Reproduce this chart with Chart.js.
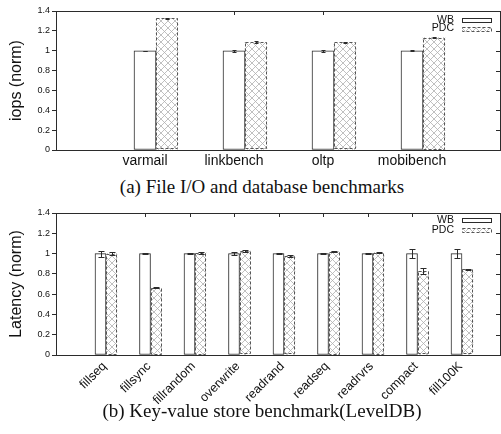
<!DOCTYPE html>
<html>
<head>
<meta charset="utf-8">
<script src="https://cdn.jsdelivr.net/npm/chart.js"></script>
<style>
  body { margin: 0; background: #fff; width: 501px; height: 434px; position: relative; overflow: hidden; }
  canvas { position: absolute; left: 0; }
  #io { top: 0; }
  #kv { top: 200px; }
  .cap { position: absolute; left: 0; width: 524px; text-align: center; line-height: 22px;
         font-family: "Liberation Serif", "Times New Roman", serif; font-size: 19px; color: #111; }
</style>
</head>
<body>
<canvas id="io" width="501" height="175"></canvas>
<div class="cap" style="top:176px">(a) File I/O and database benchmarks</div>
<canvas id="kv" width="501" height="205"></canvas>
<div class="cap" style="top:400px">(b) Key-value store benchmark(LevelDB)</div>
<script>
// (a) file I/O and database benchmarks
const ioCats = ['varmail', 'linkbench', 'oltp', 'mobibench'];
const ioWB = [1.0, 1.0, 1.0, 1.0];
const ioWBErr = [0, 0.008, 0.008, 0.005];
const ioPDC = [1.325, 1.085, 1.083, 1.133];
const ioPDCErr = [0.004, 0.008, 0.008, 0.003];

// (b) key-value store (LevelDB)
const kvCats = ['fillseq', 'fillsync', 'fillrandom', 'overwrite', 'readrand', 'readseq', 'readrvrs', 'compact', 'fill100K'];
const kvWB = [1.0, 1.0, 1.0, 1.0, 1.0, 1.0, 1.0, 1.0, 1.0];
const kvWBErr = [0.03, 0.002, 0.006, 0.015, 0.006, 0.002, 0.002, 0.045, 0.045];
const kvPDC = [1.0, 0.665, 1.01, 1.025, 0.975, 1.02, 1.01, 0.825, 0.845];
const kvPDCErr = [0.015, 0.008, 0.01, 0.01, 0.012, 0.003, 0.003, 0.03, 0.005];

const yMax = 1.4;
const yStep = 0.2;
const seriesNames = ['WB', 'PDC'];

const ink = '#2b2b2b';
const sans = '"Liberation Sans", Arial, sans-serif';

// blank slot at each end of the x range, like gnuplot's xrange [-1:n]
const pad = a => [null, ...a, null];

function hatch() {
  const c = document.createElement('canvas');
  c.width = c.height = 7;
  const g = c.getContext('2d');
  g.fillStyle = '#fff';
  g.fillRect(0, 0, 7, 7);
  g.strokeStyle = '#b0b0b0';
  g.lineWidth = 0.8;
  g.beginPath();
  g.moveTo(0, 0); g.lineTo(7, 7);
  g.moveTo(7, 0); g.lineTo(0, 7);
  g.stroke();
  return g.createPattern(c, 'repeat');
}

function dashedRect(ctx, x, y, w, h) {
  ctx.save();
  ctx.strokeStyle = '#555';
  ctx.lineWidth = 1;
  ctx.setLineDash([3, 2]);
  ctx.strokeRect(x, y, w, h);
  ctx.restore();
}

// frame, mirror ticks, dashed outlines, error bars and the key
const decor = {
  id: 'decor',
  afterDatasetsDraw(chart, args, opts) {
    const { ctx, chartArea: a, scales: { x, y } } = chart;
    ctx.save();
    ctx.strokeStyle = ink;
    ctx.lineWidth = 1;

    chart.data.datasets.forEach((ds, i) => {
      if (!ds.errors) return;
      chart.getDatasetMeta(i).data.forEach((bar, j) => {
        const v = ds.data[j];
        if (v == null) return;
        const w = bar.width;
        if (ds.dashed) dashedRect(ctx, Math.round(bar.x - w / 2) + 0.5, Math.round(bar.y) + 0.5, Math.round(w) - 1, Math.round(bar.base - bar.y) - 1);
        const e = ds.errors[j] || 0;
        const hi = Math.round(y.getPixelForValue(v + e)) + 0.5;
        const lo = Math.round(y.getPixelForValue(v - e)) + 0.5;
        const bx = Math.round(bar.x) + 0.5;
        ctx.strokeStyle = ink;
        ctx.beginPath();
        ctx.moveTo(bx, lo); ctx.lineTo(bx, hi);
        ctx.moveTo(bx - opts.cap, hi); ctx.lineTo(bx + opts.cap, hi);
        ctx.moveTo(bx - opts.cap, lo); ctx.lineTo(bx + opts.cap, lo);
        ctx.stroke();
      });
    });

    // top and right edges with inward mirror ticks
    ctx.strokeStyle = ink;
    ctx.beginPath();
    ctx.moveTo(a.left, a.top + 0.5); ctx.lineTo(a.right - 0.5, a.top + 0.5); ctx.lineTo(a.right - 0.5, a.bottom);
    y.ticks.forEach(t => {
      const py = Math.round(y.getPixelForValue(t.value)) + 0.5;
      ctx.moveTo(a.right - 5, py); ctx.lineTo(a.right, py);
    });
    for (let i = 1; i < x.ticks.length - 1; i++) {
      const px = Math.round(x.getPixelForTick(i)) + 0.5;
      ctx.moveTo(px, a.top); ctx.lineTo(px, a.top + 4);
    }
    ctx.stroke();

    // key, top right inside the frame
    ctx.font = '10.5px ' + sans;
    ctx.fillStyle = '#111';
    ctx.textAlign = 'right';
    ctx.textBaseline = 'middle';
    let row = 0;
    chart.data.datasets.forEach(ds => {
      if (!ds.label) return;
      const cy = a.top + opts.keyTop + row * opts.keyStep;
      ctx.fillText(ds.label, a.right - 47, cy);
      const bx = a.right - 38.5, by = Math.round(cy - 2) + 0.5;
      ctx.fillStyle = ds.backgroundColor;
      ctx.fillRect(bx, by, 29, 4);
      if (ds.dashed) dashedRect(ctx, bx, by, 29, 4);
      else { ctx.strokeStyle = ink; ctx.strokeRect(bx, by, 29, 4); }
      ctx.fillStyle = '#111';
      row++;
    });
    ctx.restore();
  }
};

function makeChart(id, cats, wb, wbErr, pdc, pdcErr, o) {
  const labels = pad(cats);
  return new Chart(document.getElementById(id), {
    type: 'bar',
    data: {
      labels,
      datasets: [
        // empty slot so the WB bar sits on the tick, as in the gnuplot figure
        { label: '', data: labels.map(() => null) },
        { label: seriesNames[0], data: pad(wb), errors: pad(wbErr),
          backgroundColor: '#fff', borderColor: ink, borderWidth: 1, borderSkipped: false },
        { label: seriesNames[1], data: pad(pdc), errors: pad(pdcErr), dashed: true,
          backgroundColor: hatch(), borderWidth: 0 }
      ]
    },
    options: {
      responsive: false,
      animation: false,
      layout: { padding: { top: o.top, right: 0, left: 0, bottom: 0 } },
      datasets: { bar: { barThickness: o.bar } },
      plugins: {
        legend: { display: false },
        tooltip: { enabled: false },
        decor: { cap: o.cap, keyTop: o.keyTop, keyStep: o.keyStep }
      },
      scales: {
        x: {
          offset: false,
          grid: { display: false, drawTicks: false, offset: false },
          border: { color: ink },
          ticks: { autoSkip: false, color: '#111', padding: o.xPad, labelOffset: o.xShift,
                   minRotation: o.rot, maxRotation: o.rot,
                   font: { family: sans, size: o.xFont } },
          afterFit: s => { s.height = o.xh; }
        },
        y: {
          min: 0, max: yMax,
          ticks: { stepSize: yStep, color: '#111', padding: 2, font: { family: sans, size: 9 },
                   callback: v => String(Number(v.toFixed(1))) },
          grid: { drawOnChartArea: false, tickLength: 4, color: ink },
          border: { color: ink },
          title: { display: true, text: o.yTitle, color: '#111',
                   font: { family: sans, size: 16 }, padding: { top: 7, bottom: 0 } },
          afterFit: s => { s.width = 56; }
        }
      }
    },
    plugins: [decor]
  });
}

makeChart('io', ioCats, ioWB, ioWBErr, ioPDC, ioPDCErr,
  { top: 11, xh: 25, bar: 22, rot: 0, xPad: 3, xShift: 0, xFont: 14, cap: 2, keyTop: 9, keyStep: 8.5, yTitle: 'iops (norm)' });
makeChart('kv', kvCats, kvWB, kvWBErr, kvPDC, kvPDCErr,
  { top: 13, xh: 50, bar: 11, rot: 45, xPad: 4, xShift: 4, xFont: 12.5, cap: 3, keyTop: 7, keyStep: 10, yTitle: 'Latency (norm)' });
</script>
</body>
</html>
